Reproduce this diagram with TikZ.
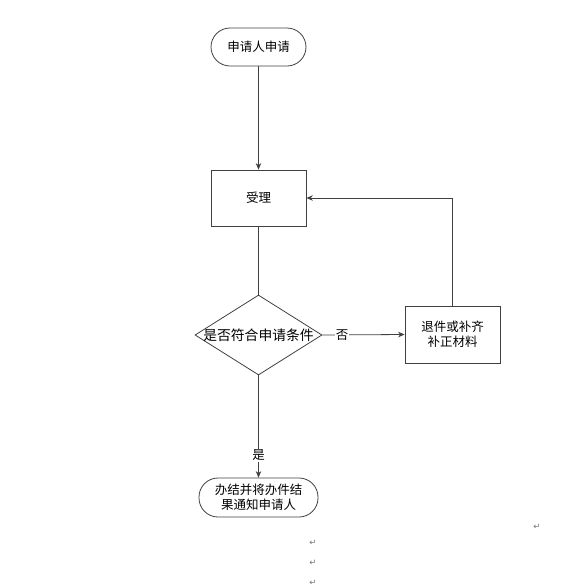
\documentclass[tikz,border=0pt]{standalone}
\usepackage{fontspec}
\newfontfamily\cjk{Noto Sans CJK SC}
\newfontfamily\dejavu{DejaVu Sans}
\usetikzlibrary{shapes.geometric,arrows.meta}
\begin{document}
\begin{tikzpicture}[x=1pt,y=-1pt,
  every node/.style={font=\cjk\fontsize{12.5}{15}\selectfont, text=black},
  term/.style={draw=black!75, line width=0.8pt, rounded corners=19pt, minimum width=95pt, minimum height=38pt, align=center, inner sep=0pt},
  procbox/.style={draw=black!75, line width=0.8pt, minimum width=95pt, minimum height=56pt, align=center, inner sep=0pt},
  decis/.style={draw=black!75, line width=0.8pt, diamond, minimum width=127pt, minimum height=80pt, inner sep=0pt},
  conn/.style={draw=black!75, line width=0.8pt, -{Stealth[length=6.5pt,width=5.5pt]}},
  lbl/.style={fill=white, inner sep=1pt},
  pmark/.style={font=\dejavu\fontsize{8.5}{9}\selectfont, text=black!55, inner sep=0pt}
]
\useasboundingbox (0,0) rectangle (583,587);
\node[term] (start) at (258.5,47) {申请人申请};
\node[procbox] (accept) at (258.5,198) {受理};
\node[decis, minimum width=127pt] (check) at (258.5,335) {};
\node[font=\cjk\fontsize{13.8}{15}\selectfont] at (check.center) {是否符合申请条件};
\node[procbox, minimum height=57pt] (supp) at (452.5,334.5) {退件或补齐\\补正材料};
\node[term, minimum width=119pt, minimum height=39pt] (done) at (258.5,497.5) {办结并将办件结\\果通知申请人};
\coordinate (corner) at (452.5,198);
\draw[conn] (start) -- (accept);
\draw[draw=black!75, line width=0.8pt] (accept) -- (check.north);
\draw[conn] (check.east) -- node[lbl, pos=0.24] (no) {否} (supp.west);
\draw[conn] (supp.north) -- (corner) -- (accept.east);
\draw[conn] (check.south) -- node[lbl, pos=0.78] (yes) {是} (done.north);
\node[pmark] (p1) at (537,527) {↵};
\node[pmark] (p2) at (313,543) {↵};
\node[pmark] (p3) at (313,563) {↵};
\node[pmark] (p4) at (313,583) {↵};
\end{tikzpicture}
\end{document}
